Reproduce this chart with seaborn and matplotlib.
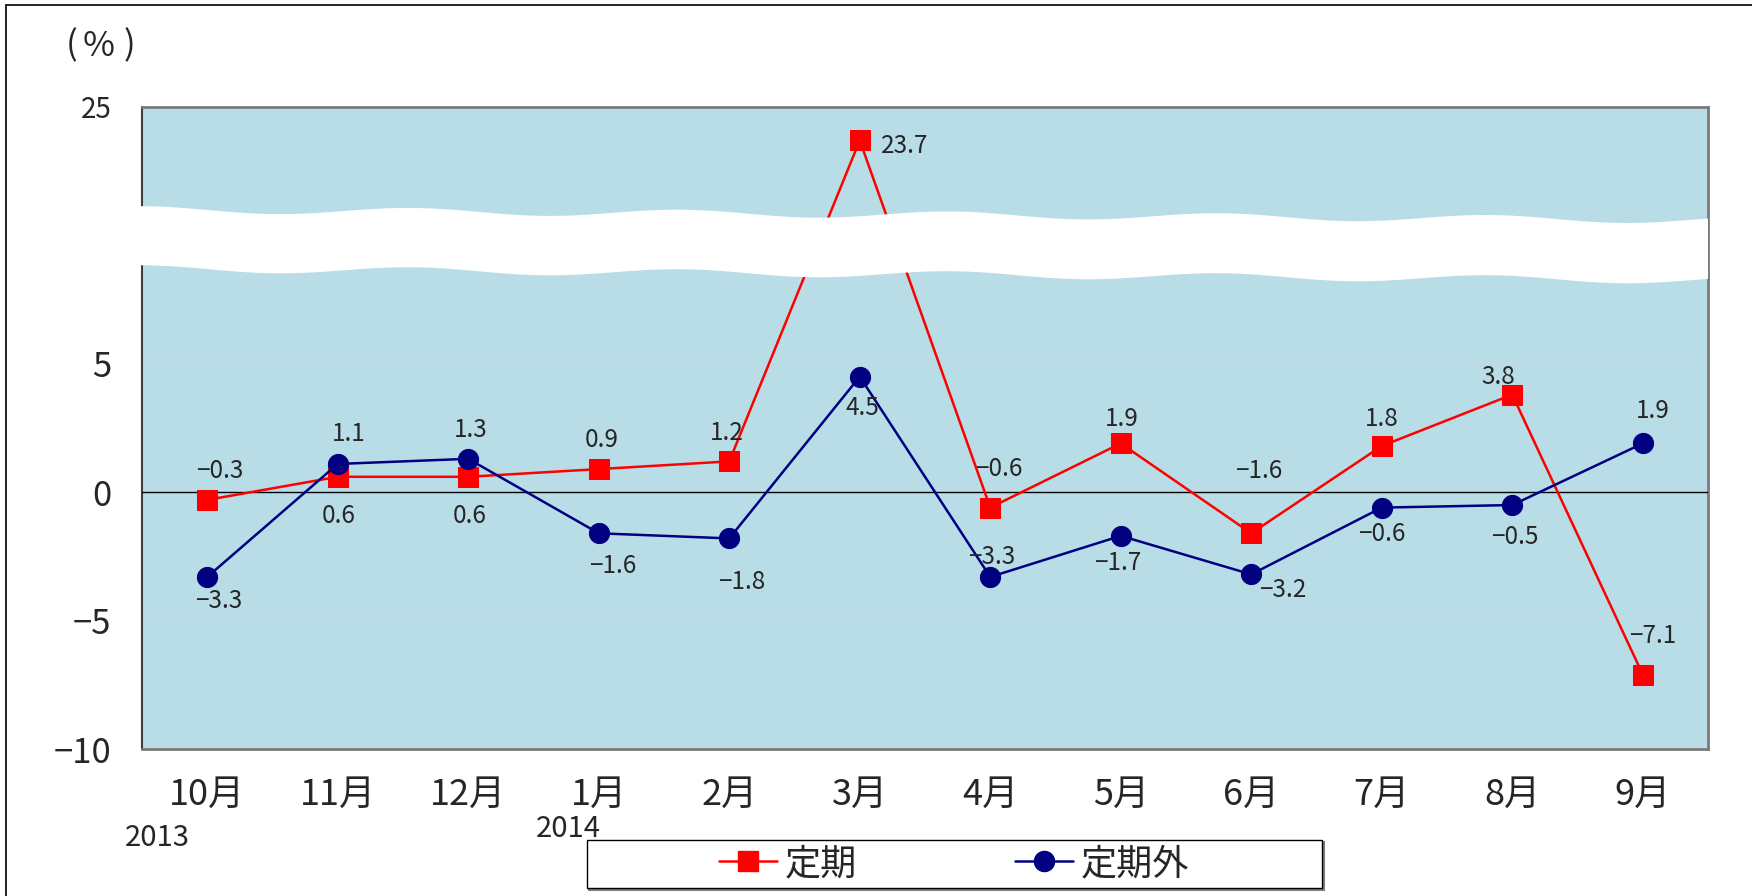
import numpy as np
import pandas as pd
import matplotlib
matplotlib.use("Agg")
import matplotlib.pyplot as plt
import matplotlib.patches as mpatches
from matplotlib.lines import Line2D
import seaborn as sns

# Monthly change (%), Oct 2013 - Sep 2014
months = ["10月", "11月", "12月", "1月", "2月", "3月", "4月", "5月", "6月", "7月", "8月", "9月"]
teiki = [-0.3, 0.6, 0.6, 0.9, 1.2, 23.7, -0.6, 1.9, -1.6, 1.8, 3.8, -7.1]
teikigai = [-3.3, 1.1, 1.3, -1.6, -1.8, 4.5, -3.3, -1.7, -3.2, -0.6, -0.5, 1.9]
series_names = ["定期", "定期外"]
ytick_values = [-10, -5, 0, 5, 25]
year_labels = ["2013", "2014"]

# label offsets (points, to the centre of the digits) for each value label
teiki_off = [(9, 22), (1, -27), (1, -27), (2, 22), (-2, 22), (32, -3), (6, 29),
             (1, 19), (5, 46), (0, 21), (-10, 14), (7, 29)]
teikigai_off = [(8, -16), (8, 23), (2, 22), (10, -22), (9, -30), (2, -21), (1, 16),
                (-2, -18), (23, -10), (0, -18), (2, -22), (7, 25)]

sns.set_style("white")
plt.rcParams["font.family"] = ["Noto Sans CJK JP", "DejaVu Sans"]
plt.rcParams["axes.unicode_minus"] = True

W, H = 1752, 896
fig = plt.figure(figsize=(W / 100, H / 100), dpi=100)
ax = fig.add_axes([142 / W, (H - 749) / H, (1708 - 142) / W, (749 - 107) / H])

BG = "#b8dde7"
ax.set_facecolor(BG)


# broken value axis: values above the gap are shifted down by 10
def fwd(y):
    y = np.asarray(y, dtype=float)
    return np.where(y <= 9, y, np.where(y >= 21, y - 10, 9 + (y - 9) / 6.0))


def inv(x):
    x = np.asarray(x, dtype=float)
    return np.where(x <= 9, x, np.where(x >= 11, x + 10, 9 + (x - 9) * 6.0))


ax.set_yscale("function", functions=(fwd, inv))

xpos = np.arange(len(months))
df = pd.DataFrame({"x": np.concatenate([xpos, xpos]),
                   "v": teiki + teikigai,
                   "series": [series_names[0]] * len(months) + [series_names[1]] * len(months)})

colors = {series_names[0]: "#ff0000", series_names[1]: "#000080"}
markers = {series_names[0]: "s", series_names[1]: "o"}
for name in series_names:
    sub = df[df["series"] == name]
    sns.lineplot(data=sub, x="x", y="v", ax=ax, color=colors[name], marker=markers[name],
                 markersize=14.5, markeredgecolor=colors[name], linewidth=1.8,
                 label=name, zorder=4, legend=False)

ax.axhline(0, color="black", lw=1.0, zorder=3)
for g in (5, -5):
    ax.axhline(g, color="#c4d7e6", lw=1.2, zorder=1)

ax.set_xlim(-0.5, len(months) - 0.5)
ax.set_ylim(-10, 25)
ax.set_xticks(xpos)
ax.set_xticklabels(months, fontsize=26)
ax.set_yticks(ytick_values)
ax.set_yticklabels([("\u2212" + str(abs(t))) if t < 0 else str(t) for t in ytick_values], fontsize=25)
ax.tick_params(axis="x", length=0, pad=20)
ax.tick_params(axis="y", direction="in", length=8, width=1.5, color="#404040", pad=22)
top_lbl = ax.get_yticklabels()[-1]
top_lbl.set_fontsize(20)
ax.set_xlabel("")
ax.set_ylabel("")

for side, sp in ax.spines.items():
    sp.set_visible(True)
    sp.set_zorder(2.5)
ax.spines["left"].set_color("#404040")
ax.spines["left"].set_linewidth(1.5)
for side in ("top", "right", "bottom"):
    ax.spines[side].set_color("#7a7a7a")
    ax.spines[side].set_linewidth(2)


def fmt(v):
    return ("\u2212" if v < 0 else "") + f"{abs(v):.1f}"


LBL = 17.5
half_cap = 0.73 * LBL / 2
for vals, offs in ((teiki, teiki_off), (teikigai, teikigai_off)):
    for i, (v, (dx, dy)) in enumerate(zip(vals, offs)):
        ax.annotate(fmt(v), (xpos[i], v), xytext=(dx, dy - half_cap), textcoords="offset points",
                    ha="center", va="baseline", fontsize=LBL, zorder=6)

# wavy white gap band marking the axis break
bx = np.linspace(-0.003, 1.0, 600)
period = 0.172
top = 0.840 - 0.016 * bx + 0.0055 * np.cos(2 * np.pi * bx / period)
bot = top - 0.092 - 0.002 * bx
poly = np.concatenate([np.column_stack([bx, top]), np.column_stack([bx[::-1], bot[::-1]])])
ax.add_patch(mpatches.Polygon(poly, closed=True, transform=ax.transAxes, facecolor="white",
                              edgecolor="none", zorder=5, clip_on=False))

# unit label (full-width parentheses) and year labels
for ch, px in (("(", 72), ("%", 99), (")", 129)):
    fig.text(px / W, 1 - 46 / H, ch, fontsize=25, ha="center", va="center")
fig.text(157 / W, 1 - 838 / H, year_labels[0], fontsize=21, ha="center", va="center")
fig.text(568 / W, 1 - 829 / H, year_labels[1], fontsize=21, ha="center", va="center")

# legend in a framed box below the axis
handles = [Line2D([], [], color=colors[n], marker=markers[n], markersize=14.5,
                  markeredgecolor=colors[n], linewidth=1.8) for n in series_names]
fig.legend(handles, series_names, loc="center", bbox_to_anchor=(954 / W, 32 / H),
           ncol=2, frameon=False, handlelength=1.6, handletextpad=0.2,
           columnspacing=4.4, prop={"size": 26})
fig.patches.append(mpatches.Rectangle((589 / W, 6 / H), 735 / W, 48 / H, transform=fig.transFigure,
                                      facecolor="none", edgecolor="#808080", lw=1.5, zorder=0))
fig.patches.append(mpatches.Rectangle((587 / W, 8 / H), 735 / W, 48 / H, transform=fig.transFigure,
                                      facecolor="white", edgecolor="black", lw=1.0, zorder=1))

# outer frame lines
fig.add_artist(Line2D([6 / W, 6 / W], [0, 1 - 5 / H], transform=fig.transFigure, color="black", lw=1.2))
fig.add_artist(Line2D([6 / W, 1], [1 - 5 / H, 1 - 5 / H], transform=fig.transFigure, color="black", lw=1.2))

fig.savefig("out.png", dpi=100, facecolor="white")
